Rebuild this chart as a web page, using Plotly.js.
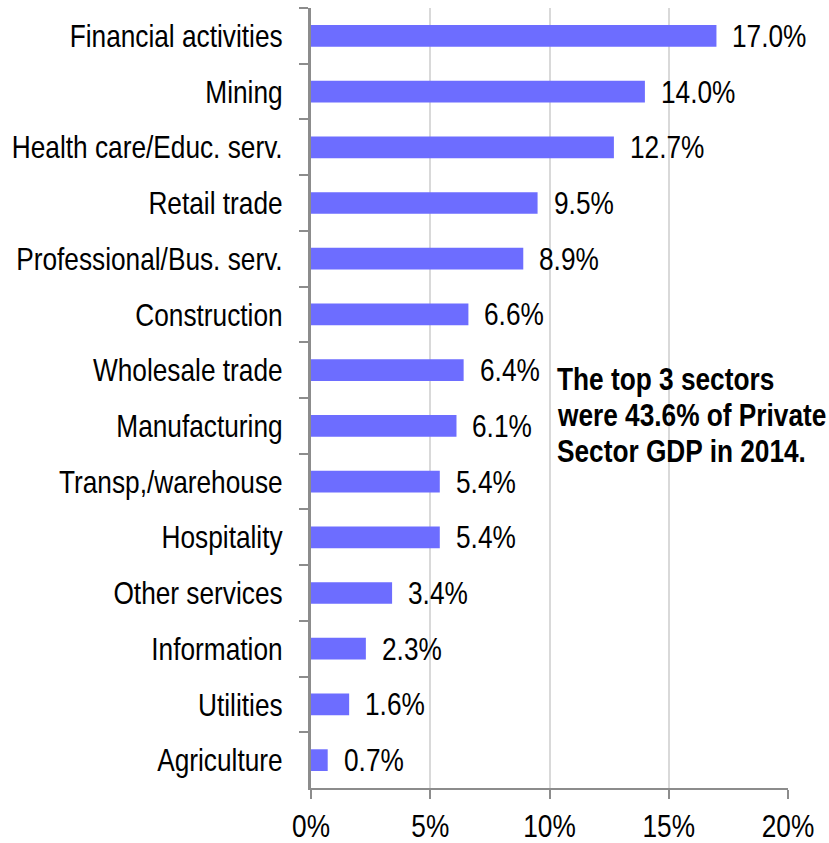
<!DOCTYPE html>
<html><head><meta charset="utf-8">
<script src="https://cdn.plot.ly/plotly-3.0.1.min.js"></script>
<style>body{margin:0;padding:0;background:#fff}</style>
</head><body>
<div id="chart" style="width:829px;height:843px"></div>
<script>
const categories = ["Financial activities","Mining","Health care/Educ. serv.","Retail trade","Professional/Bus. serv.","Construction","Wholesale trade","Manufacturing","Transp,/warehouse","Hospitality","Other services","Information","Utilities","Agriculture"];
const shares = [17.0,14.0,12.7,9.5,8.9,6.6,6.4,6.1,5.4,5.4,3.4,2.3,1.6,0.7];
const xTickVals = [0,5,10,15,20];
const xTickText = ["0%","5%","10%","15%","20%"];
const noteLines = ["The top 3 sectors","were 43.6% of Private","Sector GDP in 2014."];

const FONT = "Arial Narrow, Liberation Sans Narrow, Liberation Sans, Arial, sans-serif";
const FS = 32;
const SQUEEZE = 0.82;
const PT = 8, PB = 788;

const annotations = categories.map((c,i)=>({
  x: shares[i], y: c, xref:'x', yref:'y', text: shares[i].toFixed(1)+'%',
  showarrow:false, xanchor:'left', yanchor:'middle', xshift:14, align:'left',
  font:{family:FONT,size:FS,color:'#000'}
}));
const notePy = [379, 415, 451];
noteLines.forEach((t,i)=>{
  annotations.push({
    xref:'paper', yref:'paper', x:(557-311)/477, y:1-(notePy[i]-PT)/(PB-PT), xanchor:'left', yanchor:'middle', xshift:-2,
    text:t, showarrow:false, align:'left',
    font:{family:FONT,size:FS,color:'#000',weight:'bold'}
  });
});

function squeeze(gd){
  const els = gd.querySelectorAll('.ytick text, .xtick text, .annotation-text');
  els.forEach(el=>{
    if (el.dataset.sq) return;
    el.dataset.sq = '1';
    const isAnn = el.classList.contains('annotation-text');
    const anchor = isAnn ? 'left' : (el.closest('.ytick') ? 'right' : 'center');
    const b0 = el.getBBox();
    const w = el.getComputedTextLength();
    el.setAttribute('textLength', (w*SQUEEZE).toFixed(2));
    el.setAttribute('lengthAdjust','spacingAndGlyphs');
    const b1 = el.getBBox();
    let dx = 0;
    if (anchor==='left') dx = b0.x - b1.x;
    else if (anchor==='right') dx = (b0.x+b0.width) - (b1.x+b1.width);
    else dx = (b0.x+b0.width/2) - (b1.x+b1.width/2);
    if (Math.abs(dx)>0.3){
      const t = el.getAttribute('transform')||'';
      el.setAttribute('transform', (t+' translate('+dx.toFixed(2)+',0)').trim());
    }
    if (isAnn){
      const g = el.closest('.annotation');
      if (g){
        g.querySelectorAll('rect').forEach(r=>{
          const rw = parseFloat(r.getAttribute('width'));
          if (!isNaN(rw)) r.setAttribute('width', Math.max(0, rw - (b0.width - b1.width)).toFixed(2));
        });
      }
    }
  });
}

Plotly.newPlot('chart',[{
  type:'bar', orientation:'h', x:shares, y:categories,
  marker:{color:'#6D6DFF'}, width:0.39, hoverinfo:'none'
}],{
  width:829,height:843,
  margin:{l:311,r:41,t:PT,b:843-PB,pad:0},
  paper_bgcolor:'#fff',plot_bgcolor:'#fff',
  showlegend:false,
  font:{family:FONT,size:FS,color:'#000'},
  xaxis:{range:[0,20],tickvals:xTickVals,ticktext:xTickText,showgrid:true,gridcolor:'#D9D9D9',gridwidth:2,
    showline:true,linecolor:'#8C8C8C',linewidth:2,ticks:'outside',ticklen:9,tickcolor:'#8C8C8C',tickwidth:2,
    ticklabelstandoff:0,zeroline:false,tickfont:{family:FONT,size:FS,color:'#000'},fixedrange:true},
  yaxis:{type:'category',categoryorder:'array',categoryarray:categories,autorange:'reversed',
    showgrid:false,showline:true,linecolor:'#8C8C8C',linewidth:3,ticks:'outside',tickson:'boundaries',
    ticklen:9,tickcolor:'#8C8C8C',tickwidth:2,ticklabelstandoff:19,tickfont:{family:FONT,size:FS,color:'#000'},fixedrange:true},
  annotations:annotations
},{displayModeBar:false,staticPlot:true}).then(gd=>{ squeeze(gd); });
</script>
</body></html>
